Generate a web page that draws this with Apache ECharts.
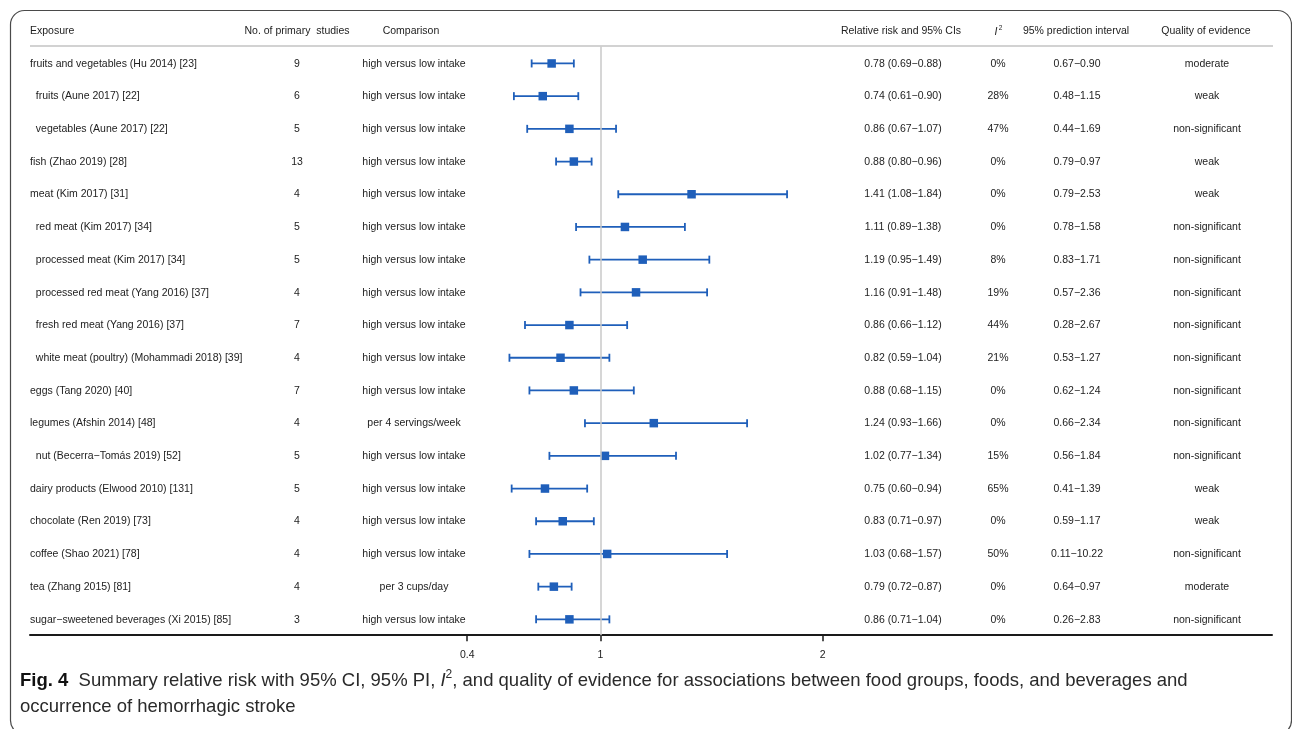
<!DOCTYPE html>
<html>
<head>
<meta charset="utf-8">
<script src="https://cdn.jsdelivr.net/npm/echarts@6/dist/echarts.min.js"></script>
<style>
html,body{margin:0;padding:0;background:#fff;}
#c{width:1292px;height:729px;}
</style>
</head>
<body>
<div id="c"></div>
<script>
// ---------------- DATA ----------------
const exposures = [
  'fruits and vegetables (Hu 2014) [23]',
  '  fruits (Aune 2017) [22]',
  '  vegetables (Aune 2017) [22]',
  'fish (Zhao 2019) [28]',
  'meat (Kim 2017) [31]',
  '  red meat (Kim 2017) [34]',
  '  processed meat (Kim 2017) [34]',
  '  processed red meat (Yang 2016) [37]',
  '  fresh red meat (Yang 2016) [37]',
  '  white meat (poultry) (Mohammadi 2018) [39]',
  'eggs (Tang 2020) [40]',
  'legumes (Afshin 2014) [48]',
  '  nut (Becerra\u2212Tomás 2019) [52]',
  'dairy products (Elwood 2010) [131]',
  'chocolate (Ren 2019) [73]',
  'coffee (Shao 2021) [78]',
  'tea (Zhang 2015) [81]',
  'sugar\u2212sweetened beverages (Xi 2015) [85]'
];
const studies = [9, 6, 5, 13, 4, 5, 5, 4, 7, 4, 7, 4, 5, 5, 4, 4, 4, 3];
const comparisons = [
  'high versus low intake', 'high versus low intake', 'high versus low intake',
  'high versus low intake', 'high versus low intake', 'high versus low intake',
  'high versus low intake', 'high versus low intake', 'high versus low intake',
  'high versus low intake', 'high versus low intake', 'per 4 servings/week',
  'high versus low intake', 'high versus low intake', 'high versus low intake',
  'high versus low intake', 'per 3 cups/day', 'high versus low intake'
];
const rr     = [0.78, 0.74, 0.86, 0.88, 1.41, 1.11, 1.19, 1.16, 0.86, 0.82, 0.88, 1.24, 1.02, 0.75, 0.83, 1.03, 0.79, 0.86];
const ciLow  = [0.69, 0.61, 0.67, 0.80, 1.08, 0.89, 0.95, 0.91, 0.66, 0.59, 0.68, 0.93, 0.77, 0.60, 0.71, 0.68, 0.72, 0.71];
const ciHigh = [0.88, 0.90, 1.07, 0.96, 1.84, 1.38, 1.49, 1.48, 1.12, 1.04, 1.15, 1.66, 1.34, 0.94, 0.97, 1.57, 0.87, 1.04];
const i2     = [0, 28, 47, 0, 0, 0, 8, 19, 44, 21, 0, 0, 15, 65, 0, 50, 0, 0];
const piLow  = [0.67, 0.48, 0.44, 0.79, 0.79, 0.78, 0.83, 0.57, 0.28, 0.53, 0.62, 0.66, 0.56, 0.41, 0.59, 0.11, 0.64, 0.26];
const piHigh = [0.90, 1.15, 1.69, 0.97, 2.53, 1.58, 1.71, 2.36, 2.67, 1.27, 1.24, 2.34, 1.84, 1.39, 1.17, 10.22, 0.97, 2.83];
const quality = [
  'moderate', 'weak', 'non-significant', 'weak', 'weak', 'non-significant',
  'non-significant', 'non-significant', 'non-significant', 'non-significant',
  'non-significant', 'non-significant', 'non-significant', 'weak', 'weak',
  'non-significant', 'moderate', 'non-significant'
];
const xTicks = [0.4, 1, 2];
const refValue = 1;
const headers = {
  exposure: 'Exposure',
  studies: 'No. of primary  studies',
  comparison: 'Comparison',
  rr: 'Relative risk and 95% CIs',
  pi: '95% prediction interval',
  quality: 'Quality of evidence'
};
const captionBold = 'Fig. 4';
const captionA = '  Summary relative risk with 95% CI, 95% PI, ';
const captionB = ', and quality of evidence for associations between food groups, foods, and beverages and';
const captionLine2 = 'occurrence of hemorrhagic stroke';

// ---------------- LAYOUT / STYLE ----------------
const FONT = '"Liberation Sans", Arial, Helvetica, sans-serif';
const CFONT = '"Liberation Sans", Arial, sans-serif';
const FS = 10.5;
const CFS = 18.5;
const TXT = '#222';
const BLUE = '#1f5fba';
const GRID_L = 30, GRID_R = 1272, GRID_T = 46.6, GRID_H = 588.6;
const X_ONE = 600.5, PX_PER_UNIT = 222.1;
const xMin = refValue - (X_ONE - GRID_L) / PX_PER_UNIT;
const xMax = refValue + (GRID_R - X_ONE) / PX_PER_UNIT;
const COL = { exposure: 30, studies: 297, comparison: 414, rr: 903, i2: 998, pi: 1077, quality: 1207 };
const TEXT_DY = 0.8;
const fmt = v => v.toFixed(2);
const DASH = '\u2212';

const forestData = rr.map((v, i) => [v, i, ciLow[i], ciHigh[i]]);
const tableData = rr.map((v, i) => [refValue, i]);

function txt(x, y, text, align, extra) {
  return {
    type: 'text', x: x, y: y,
    style: Object.assign({
      text: text, fill: TXT, fontSize: FS, fontFamily: FONT,
      align: align, textAlign: align, verticalAlign: 'middle', textVerticalAlign: 'middle'
    }, extra || {})
  };
}

const chart = echarts.init(document.getElementById('c'), null, { renderer: 'canvas' });

const option = {
  backgroundColor: '#fff',
  animation: false,
  grid: { left: GRID_L, top: GRID_T, width: GRID_R - GRID_L, height: GRID_H, containLabel: false },
  xAxis: {
    type: 'value', min: xMin, max: xMax,
    axisLine: { show: true, lineStyle: { color: '#1a1a1a', width: 2 } },
    axisTick: { show: true, customValues: xTicks, length: 6, lineStyle: { color: '#1a1a1a', width: 1.5 } },
    axisLabel: { show: true, customValues: xTicks, margin: 14, fontSize: FS, color: TXT, fontFamily: FONT,
      formatter: v => String(Math.round(v * 10) / 10) },
    splitLine: { show: false }
  },
  yAxis: {
    type: 'category', data: exposures, inverse: true,
    axisLine: { show: false }, axisTick: { show: false }, axisLabel: { show: false }, splitLine: { show: false }
  },
  series: [
    {
      type: 'custom', name: 'table', data: tableData, clip: false, silent: true,
      encode: { x: 0, y: 1 },
      renderItem: function (params, api) {
        const i = api.value(1);
        const y = api.coord([refValue, i])[1] + TEXT_DY;
        return {
          type: 'group',
          children: [
            txt(COL.exposure, y, exposures[i], 'left'),
            txt(COL.studies, y, String(studies[i]), 'center'),
            txt(COL.comparison, y, comparisons[i], 'center'),
            txt(COL.rr, y, fmt(rr[i]) + ' (' + fmt(ciLow[i]) + DASH + fmt(ciHigh[i]) + ')', 'center'),
            txt(COL.i2, y, i2[i] + '%', 'center'),
            txt(COL.pi, y, fmt(piLow[i]) + DASH + fmt(piHigh[i]), 'center'),
            txt(COL.quality, y, quality[i], 'center')
          ]
        };
      },
      markLine: {
        silent: true, symbol: 'none', label: { show: false },
        lineStyle: { color: '#c8c8c8', width: 1.5, type: 'solid' },
        data: [{ xAxis: refValue }]
      },
      z: 1
    },
    {
      type: 'custom', name: 'forest', data: forestData, clip: false,
      encode: { x: [0, 2, 3], y: 1 },
      renderItem: function (params, api) {
        const c = api.coord([api.value(0), api.value(1)]);
        const lo = api.coord([api.value(2), api.value(1)]);
        const hi = api.coord([api.value(3), api.value(1)]);
        const y = c[1] + 0.5;
        const cap = 4, s = 8.5;
        const ls = { stroke: BLUE, lineWidth: 1.8 };
        return {
          type: 'group',
          children: [
            { type: 'line', shape: { x1: lo[0], y1: y, x2: hi[0], y2: y }, style: ls },
            { type: 'line', shape: { x1: lo[0], y1: y - cap, x2: lo[0], y2: y + cap }, style: ls },
            { type: 'line', shape: { x1: hi[0], y1: y - cap, x2: hi[0], y2: y + cap }, style: ls },
            { type: 'rect', shape: { x: c[0] - s / 2, y: y - s / 2, width: s, height: s }, style: { fill: BLUE } }
          ]
        };
      },
      z: 3
    }
  ],
  graphic: [
    // outer frame
    { type: 'rect', shape: { x: 10.5, y: 10.5, width: 1281, height: 724, r: 14 },
      style: { fill: 'none', stroke: '#4a4a4a', lineWidth: 1.2 }, z: 0, silent: true },
    // header separator
    { type: 'line', shape: { x1: GRID_L, y1: 46, x2: 1273, y2: 46 },
      style: { stroke: '#d2d2d2', lineWidth: 2 }, silent: true },
    txt(COL.exposure, 31.5, headers.exposure, 'left'),
    txt(COL.studies, 31.5, headers.studies, 'center'),
    txt(411, 31.5, headers.comparison, 'center'),
    txt(901, 31.5, headers.rr, 'center'),
    txt(996, 32, 'I', 'center', { fontStyle: 'italic' }),
    txt(1000.5, 28, '2', 'center', { fontSize: 6.5 }),
    txt(1076, 31.5, headers.pi, 'center'),
    txt(1206, 31.5, headers.quality, 'center'),
    // caption
    {
      type: 'text', x: 20, y: 681,
      style: {
        text: '{b|' + captionBold + '}{n|' + captionA + '}{i|I}{s|2}{n|' + captionB + '}',
        align: 'left', textAlign: 'left', verticalAlign: 'middle', textVerticalAlign: 'middle',
        fill: '#231f20',
        rich: {
          b: { fontWeight: 'bold', fontSize: CFS, fontFamily: CFONT, fill: '#111', lineHeight: 24 },
          n: { fontSize: CFS, fontFamily: CFONT, fill: '#2a2a2a', lineHeight: 24 },
          i: { fontSize: CFS, fontStyle: 'italic', fontFamily: CFONT, fill: '#2a2a2a', lineHeight: 24 },
          s: { fontSize: 12, fontFamily: CFONT, fill: '#2a2a2a', lineHeight: 14, verticalAlign: 'top' }
        }
      }, silent: true
    },
    {
      type: 'text', x: 20, y: 707,
      style: {
        text: captionLine2, fontSize: CFS, fontFamily: CFONT,
        fill: '#2a2a2a', align: 'left', textAlign: 'left', verticalAlign: 'middle', textVerticalAlign: 'middle'
      }, silent: true
    }
  ]
};
chart.setOption(option);
</script>
</body>
</html>
